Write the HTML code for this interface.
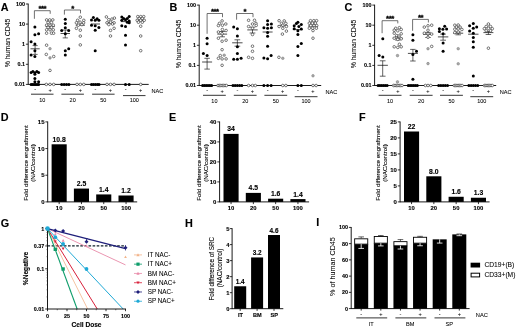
<!DOCTYPE html>
<html><head><meta charset="utf-8"><title>Figure</title>
<style>html,body{margin:0;padding:0;background:#fff;}svg{display:block;}text{font-family:"Liberation Sans",sans-serif;}</style>
</head><body>
<svg width="520" height="329" viewBox="0 0 520 329">
<defs><filter id="soft" x="0" y="0" width="100%" height="100%" filterUnits="userSpaceOnUse" color-interpolation-filters="sRGB"><feGaussianBlur stdDeviation="0.45"/></filter></defs>
<rect width="520" height="329" fill="#fff"/>
<g filter="url(#soft)">
<rect width="520" height="329" fill="#fff"/>
<line x1="28.20" y1="3.60" x2="28.20" y2="84.80" stroke="#000" stroke-width="0.9" />
<line x1="28.20" y1="84.40" x2="148.70" y2="84.40" stroke="#000" stroke-width="0.9" />
<line x1="25.90" y1="84.40" x2="28.20" y2="84.40" stroke="#000" stroke-width="0.8" />
<text x="25.0" y="86.30000000000001" font-size="5.4" font-weight="bold" stroke="#000" stroke-width="0.12" text-anchor="end" fill="#000">0.01</text>
<line x1="25.90" y1="64.30" x2="28.20" y2="64.30" stroke="#000" stroke-width="0.8" />
<text x="25.0" y="66.20000000000002" font-size="5.4" font-weight="bold" stroke="#000" stroke-width="0.12" text-anchor="end" fill="#000">0.1</text>
<line x1="25.90" y1="44.20" x2="28.20" y2="44.20" stroke="#000" stroke-width="0.8" />
<text x="25.0" y="46.1" font-size="5.4" font-weight="bold" stroke="#000" stroke-width="0.12" text-anchor="end" fill="#000">1</text>
<line x1="25.90" y1="24.10" x2="28.20" y2="24.10" stroke="#000" stroke-width="0.8" />
<text x="25.0" y="26.0" font-size="5.4" font-weight="bold" stroke="#000" stroke-width="0.12" text-anchor="end" fill="#000">10</text>
<line x1="25.90" y1="4.00" x2="28.20" y2="4.00" stroke="#000" stroke-width="0.8" />
<text x="25.0" y="5.9" font-size="5.4" font-weight="bold" stroke="#000" stroke-width="0.12" text-anchor="end" fill="#000">100</text>
<text x="0.8" y="11.4" font-size="10.8" font-weight="bold" stroke="#000" stroke-width="0.12" text-anchor="start" fill="#000">A</text>
<text x="9.8" y="42.900000000000006" font-size="6.9" stroke="#000" stroke-width="0.06" text-anchor="middle" fill="#000" transform="rotate(-90 9.8 42.900000000000006)">% human CD45</text>
<line x1="31.00" y1="94.20" x2="53.50" y2="94.20" stroke="#000" stroke-width="0.8" />
<text x="42.25" y="102.30000000000001" font-size="5.5" stroke="#000" stroke-width="0.06" text-anchor="middle" fill="#000">10</text>
<text x="35.1" y="91.2" font-size="5.6" stroke="#000" stroke-width="0.06" text-anchor="middle" fill="#000">-</text>
<text x="50.18" y="91.5" font-size="5.6" stroke="#000" stroke-width="0.06" text-anchor="middle" fill="#000">+</text>
<line x1="61.40" y1="94.20" x2="83.90" y2="94.20" stroke="#000" stroke-width="0.8" />
<text x="72.65" y="102.30000000000001" font-size="5.5" stroke="#000" stroke-width="0.06" text-anchor="middle" fill="#000">20</text>
<text x="65.26" y="91.2" font-size="5.6" stroke="#000" stroke-width="0.06" text-anchor="middle" fill="#000">-</text>
<text x="80.34" y="91.5" font-size="5.6" stroke="#000" stroke-width="0.06" text-anchor="middle" fill="#000">+</text>
<line x1="92.10" y1="94.20" x2="114.60" y2="94.20" stroke="#000" stroke-width="0.8" />
<text x="103.35" y="102.30000000000001" font-size="5.5" stroke="#000" stroke-width="0.06" text-anchor="middle" fill="#000">50</text>
<text x="95.42" y="91.2" font-size="5.6" stroke="#000" stroke-width="0.06" text-anchor="middle" fill="#000">-</text>
<text x="110.5" y="91.5" font-size="5.6" stroke="#000" stroke-width="0.06" text-anchor="middle" fill="#000">+</text>
<line x1="123.00" y1="95.60" x2="145.50" y2="95.60" stroke="#000" stroke-width="0.8" />
<text x="134.25" y="102.30000000000001" font-size="5.5" stroke="#000" stroke-width="0.06" text-anchor="middle" fill="#000">100</text>
<text x="125.58000000000001" y="91.2" font-size="5.6" stroke="#000" stroke-width="0.06" text-anchor="middle" fill="#000">-</text>
<text x="140.66" y="91.5" font-size="5.6" stroke="#000" stroke-width="0.06" text-anchor="middle" fill="#000">+</text>
<text x="151.5" y="92.60000000000001" font-size="5.6" stroke="#000" stroke-width="0.06" text-anchor="start" fill="#000">NAC</text>
<polyline points="34.4,18.8 34.4,10.7 50.2,10.7 50.2,13.8" fill="none" stroke="#333" stroke-width="0.7"/>
<text x="42.3" y="11.3" font-size="7.8" font-weight="bold" text-anchor="middle" letter-spacing="-0.45" stroke="#000" stroke-width="0.3">***</text>
<polyline points="64.4,14.6 64.4,10.0 80.5,10.0 80.5,13.4" fill="none" stroke="#333" stroke-width="0.7"/>
<text x="72.5" y="10.6" font-size="7.8" font-weight="bold" text-anchor="middle" letter-spacing="-0.45" stroke="#000" stroke-width="0.3">*</text>
<line x1="30.50" y1="48.80" x2="39.70" y2="48.80" stroke="#111" stroke-width="0.75" />
<line x1="35.10" y1="45.60" x2="35.10" y2="54.40" stroke="#111" stroke-width="0.65" />
<line x1="32.57" y1="45.60" x2="37.63" y2="45.60" stroke="#111" stroke-width="0.65" />
<line x1="32.57" y1="54.40" x2="37.63" y2="54.40" stroke="#111" stroke-width="0.65" />
<circle cx="34.9" cy="27.1" r="1.5" fill="#000"/>
<circle cx="34.9" cy="34.8" r="1.5" fill="#000"/>
<circle cx="38.6" cy="33.8" r="1.5" fill="#000"/>
<circle cx="31.1" cy="41.8" r="1.5" fill="#000"/>
<circle cx="34.9" cy="44.1" r="1.5" fill="#000"/>
<circle cx="34.9" cy="50.7" r="1.5" fill="#000"/>
<circle cx="31.1" cy="54.9" r="1.5" fill="#000"/>
<circle cx="34.9" cy="56.5" r="1.5" fill="#000"/>
<circle cx="31.1" cy="72.5" r="1.5" fill="#000"/>
<circle cx="32.9" cy="71.6" r="1.5" fill="#000"/>
<circle cx="34.9" cy="72.8" r="1.5" fill="#000"/>
<circle cx="36.9" cy="71.6" r="1.5" fill="#000"/>
<circle cx="38.6" cy="72.5" r="1.5" fill="#000"/>
<circle cx="34.9" cy="74.3" r="1.5" fill="#000"/>
<circle cx="34.9" cy="78.6" r="1.5" fill="#000"/>
<circle cx="34.9" cy="81.7" r="1.5" fill="#000"/>
<circle cx="38.6" cy="81.7" r="1.5" fill="#000"/>
<circle cx="31.1" cy="84.4" r="1.5" fill="#000"/>
<circle cx="32.6" cy="84.4" r="1.5" fill="#000"/>
<circle cx="34.1" cy="84.4" r="1.5" fill="#000"/>
<circle cx="35.6" cy="84.4" r="1.5" fill="#000"/>
<circle cx="37.1" cy="84.4" r="1.5" fill="#000"/>
<circle cx="38.6" cy="84.4" r="1.5" fill="#000"/>
<line x1="45.58" y1="26.60" x2="54.78" y2="26.60" stroke="#111" stroke-width="0.75" />
<circle cx="46.6" cy="19.9" r="1.3" fill="#fff" stroke="#222" stroke-width="0.6"/>
<circle cx="49.7" cy="19.9" r="1.3" fill="#fff" stroke="#222" stroke-width="0.6"/>
<circle cx="52.8" cy="19.9" r="1.3" fill="#fff" stroke="#222" stroke-width="0.6"/>
<circle cx="48.1" cy="22.5" r="1.3" fill="#fff" stroke="#222" stroke-width="0.6"/>
<circle cx="51.4" cy="22.5" r="1.3" fill="#fff" stroke="#222" stroke-width="0.6"/>
<circle cx="46.6" cy="25.2" r="1.3" fill="#fff" stroke="#222" stroke-width="0.6"/>
<circle cx="50.0" cy="25.2" r="1.3" fill="#fff" stroke="#222" stroke-width="0.6"/>
<circle cx="53.3" cy="25.2" r="1.3" fill="#fff" stroke="#222" stroke-width="0.6"/>
<circle cx="48.1" cy="27.4" r="1.3" fill="#fff" stroke="#222" stroke-width="0.6"/>
<circle cx="51.4" cy="27.4" r="1.3" fill="#fff" stroke="#222" stroke-width="0.6"/>
<circle cx="46.6" cy="29.8" r="1.3" fill="#fff" stroke="#222" stroke-width="0.6"/>
<circle cx="50.0" cy="29.8" r="1.3" fill="#fff" stroke="#222" stroke-width="0.6"/>
<circle cx="53.3" cy="29.8" r="1.3" fill="#fff" stroke="#222" stroke-width="0.6"/>
<circle cx="46.6" cy="33.2" r="1.3" fill="#fff" stroke="#222" stroke-width="0.6"/>
<circle cx="51.4" cy="33.2" r="1.3" fill="#fff" stroke="#222" stroke-width="0.6"/>
<circle cx="53.6" cy="33.2" r="1.3" fill="#fff" stroke="#222" stroke-width="0.6"/>
<circle cx="46.6" cy="45.2" r="1.3" fill="#fff" stroke="#222" stroke-width="0.6"/>
<circle cx="50.0" cy="48.7" r="1.3" fill="#aaa" stroke="#777" stroke-width="0.5"/>
<circle cx="46.3" cy="54.4" r="1.3" fill="#fff" stroke="#222" stroke-width="0.6"/>
<circle cx="53.7" cy="56.5" r="1.3" fill="#fff" stroke="#222" stroke-width="0.6"/>
<circle cx="50.0" cy="57.9" r="1.3" fill="#aaa" stroke="#777" stroke-width="0.5"/>
<circle cx="50.0" cy="70.4" r="1.3" fill="#fff" stroke="#222" stroke-width="0.6"/>
<circle cx="46.3" cy="84.4" r="1.3" fill="#fff" stroke="#222" stroke-width="0.6"/>
<circle cx="50.0" cy="84.4" r="1.3" fill="#fff" stroke="#222" stroke-width="0.6"/>
<circle cx="53.7" cy="84.4" r="1.3" fill="#fff" stroke="#222" stroke-width="0.6"/>
<line x1="60.56" y1="33.50" x2="69.96" y2="33.50" stroke="#111" stroke-width="0.75" />
<line x1="65.26" y1="30.00" x2="65.26" y2="37.90" stroke="#111" stroke-width="0.65" />
<line x1="62.68" y1="30.00" x2="67.84" y2="30.00" stroke="#111" stroke-width="0.65" />
<line x1="62.68" y1="37.90" x2="67.84" y2="37.90" stroke="#111" stroke-width="0.65" />
<circle cx="65.3" cy="19.3" r="1.5" fill="#000"/>
<circle cx="65.3" cy="23.4" r="1.5" fill="#000"/>
<circle cx="65.3" cy="27.7" r="1.5" fill="#000"/>
<circle cx="61.7" cy="30.5" r="1.5" fill="#000"/>
<circle cx="68.7" cy="30.5" r="1.5" fill="#000"/>
<circle cx="65.3" cy="33.8" r="1.5" fill="#000"/>
<circle cx="68.7" cy="48.7" r="1.5" fill="#000"/>
<circle cx="65.3" cy="50.7" r="1.5" fill="#000"/>
<circle cx="65.3" cy="54.9" r="1.5" fill="#000"/>
<circle cx="61.7" cy="84.4" r="1.5" fill="#000"/>
<circle cx="64.1" cy="84.4" r="1.5" fill="#000"/>
<circle cx="66.5" cy="84.4" r="1.5" fill="#000"/>
<circle cx="68.9" cy="84.4" r="1.5" fill="#000"/>
<line x1="75.74" y1="25.20" x2="84.94" y2="25.20" stroke="#111" stroke-width="0.75" />
<circle cx="80.3" cy="17.2" r="1.3" fill="#fff" stroke="#222" stroke-width="0.6"/>
<circle cx="77.6" cy="20.3" r="1.3" fill="#fff" stroke="#222" stroke-width="0.6"/>
<circle cx="83.8" cy="20.3" r="1.3" fill="#fff" stroke="#222" stroke-width="0.6"/>
<circle cx="76.4" cy="22.8" r="1.3" fill="#fff" stroke="#222" stroke-width="0.6"/>
<circle cx="80.1" cy="22.2" r="1.3" fill="#fff" stroke="#222" stroke-width="0.6"/>
<circle cx="83.6" cy="22.8" r="1.3" fill="#fff" stroke="#222" stroke-width="0.6"/>
<circle cx="78.3" cy="25.2" r="1.3" fill="#fff" stroke="#222" stroke-width="0.6"/>
<circle cx="81.9" cy="24.6" r="1.3" fill="#fff" stroke="#222" stroke-width="0.6"/>
<circle cx="76.4" cy="28.3" r="1.3" fill="#fff" stroke="#222" stroke-width="0.6"/>
<circle cx="80.3" cy="30.2" r="1.3" fill="#fff" stroke="#222" stroke-width="0.6"/>
<circle cx="80.3" cy="36.1" r="1.3" fill="#fff" stroke="#222" stroke-width="0.6"/>
<circle cx="80.3" cy="44.9" r="1.3" fill="#fff" stroke="#222" stroke-width="0.6"/>
<circle cx="77.0" cy="84.4" r="1.3" fill="#fff" stroke="#222" stroke-width="0.6"/>
<circle cx="80.3" cy="84.4" r="1.3" fill="#fff" stroke="#222" stroke-width="0.6"/>
<circle cx="83.8" cy="84.4" r="1.3" fill="#fff" stroke="#222" stroke-width="0.6"/>
<line x1="90.82" y1="24.00" x2="100.02" y2="24.00" stroke="#111" stroke-width="0.75" />
<circle cx="93.4" cy="17.6" r="1.5" fill="#000"/>
<circle cx="91.5" cy="19.9" r="1.5" fill="#000"/>
<circle cx="97.1" cy="18.8" r="1.5" fill="#000"/>
<circle cx="95.2" cy="20.3" r="1.5" fill="#000"/>
<circle cx="98.9" cy="20.3" r="1.5" fill="#000"/>
<circle cx="91.5" cy="25.2" r="1.5" fill="#000"/>
<circle cx="95.2" cy="25.8" r="1.5" fill="#000"/>
<circle cx="98.9" cy="27.4" r="1.5" fill="#000"/>
<circle cx="95.2" cy="30.2" r="1.5" fill="#000"/>
<circle cx="95.2" cy="50.7" r="1.5" fill="#000"/>
<circle cx="91.5" cy="84.4" r="1.5" fill="#000"/>
<circle cx="93.4" cy="84.4" r="1.5" fill="#000"/>
<circle cx="95.4" cy="84.4" r="1.5" fill="#000"/>
<circle cx="97.4" cy="84.4" r="1.5" fill="#000"/>
<circle cx="99.0" cy="84.4" r="1.5" fill="#000"/>
<line x1="105.90" y1="22.60" x2="115.10" y2="22.60" stroke="#111" stroke-width="0.75" />
<circle cx="106.4" cy="16.9" r="1.3" fill="#fff" stroke="#222" stroke-width="0.6"/>
<circle cx="114.4" cy="18.1" r="1.3" fill="#fff" stroke="#222" stroke-width="0.6"/>
<circle cx="108.8" cy="19.7" r="1.3" fill="#fff" stroke="#222" stroke-width="0.6"/>
<circle cx="111.9" cy="19.1" r="1.3" fill="#fff" stroke="#222" stroke-width="0.6"/>
<circle cx="107.0" cy="22.8" r="1.3" fill="#fff" stroke="#222" stroke-width="0.6"/>
<circle cx="110.7" cy="22.2" r="1.3" fill="#fff" stroke="#222" stroke-width="0.6"/>
<circle cx="114.1" cy="22.8" r="1.3" fill="#fff" stroke="#222" stroke-width="0.6"/>
<circle cx="108.8" cy="24.6" r="1.3" fill="#fff" stroke="#222" stroke-width="0.6"/>
<circle cx="112.5" cy="24.0" r="1.3" fill="#fff" stroke="#222" stroke-width="0.6"/>
<circle cx="114.1" cy="28.3" r="1.3" fill="#fff" stroke="#222" stroke-width="0.6"/>
<circle cx="110.5" cy="30.4" r="1.3" fill="#fff" stroke="#222" stroke-width="0.6"/>
<circle cx="110.5" cy="36.0" r="1.3" fill="#fff" stroke="#222" stroke-width="0.6"/>
<circle cx="107.0" cy="84.4" r="1.3" fill="#fff" stroke="#222" stroke-width="0.6"/>
<circle cx="110.5" cy="84.4" r="1.3" fill="#fff" stroke="#222" stroke-width="0.6"/>
<circle cx="114.1" cy="84.4" r="1.3" fill="#fff" stroke="#222" stroke-width="0.6"/>
<line x1="120.98" y1="21.60" x2="130.18" y2="21.60" stroke="#111" stroke-width="0.75" />
<circle cx="121.8" cy="16.9" r="1.5" fill="#000"/>
<circle cx="129.2" cy="16.4" r="1.5" fill="#000"/>
<circle cx="123.6" cy="18.5" r="1.5" fill="#000"/>
<circle cx="127.3" cy="18.5" r="1.5" fill="#000"/>
<circle cx="121.8" cy="20.3" r="1.5" fill="#000"/>
<circle cx="125.5" cy="19.7" r="1.5" fill="#000"/>
<circle cx="129.2" cy="20.9" r="1.5" fill="#000"/>
<circle cx="127.3" cy="22.2" r="1.5" fill="#000"/>
<circle cx="129.2" cy="22.8" r="1.5" fill="#000"/>
<circle cx="121.8" cy="25.8" r="1.5" fill="#000"/>
<circle cx="125.5" cy="26.5" r="1.5" fill="#000"/>
<circle cx="125.5" cy="35.3" r="1.5" fill="#000"/>
<circle cx="125.5" cy="44.9" r="1.5" fill="#000"/>
<circle cx="125.5" cy="84.4" r="1.5" fill="#000"/>
<circle cx="129.2" cy="84.4" r="1.5" fill="#000"/>
<line x1="136.06" y1="20.20" x2="145.26" y2="20.20" stroke="#111" stroke-width="0.75" />
<circle cx="137.8" cy="16.6" r="1.3" fill="#fff" stroke="#222" stroke-width="0.6"/>
<circle cx="140.7" cy="16.6" r="1.3" fill="#fff" stroke="#222" stroke-width="0.6"/>
<circle cx="143.7" cy="16.6" r="1.3" fill="#fff" stroke="#222" stroke-width="0.6"/>
<circle cx="139.3" cy="18.5" r="1.3" fill="#fff" stroke="#222" stroke-width="0.6"/>
<circle cx="142.3" cy="18.5" r="1.3" fill="#fff" stroke="#222" stroke-width="0.6"/>
<circle cx="137.2" cy="20.3" r="1.3" fill="#fff" stroke="#222" stroke-width="0.6"/>
<circle cx="140.7" cy="20.3" r="1.3" fill="#fff" stroke="#222" stroke-width="0.6"/>
<circle cx="144.2" cy="20.3" r="1.3" fill="#fff" stroke="#222" stroke-width="0.6"/>
<circle cx="138.4" cy="22.2" r="1.3" fill="#fff" stroke="#222" stroke-width="0.6"/>
<circle cx="142.3" cy="22.2" r="1.3" fill="#fff" stroke="#222" stroke-width="0.6"/>
<circle cx="140.7" cy="26.2" r="1.3" fill="#fff" stroke="#222" stroke-width="0.6"/>
<circle cx="140.7" cy="36.0" r="1.3" fill="#fff" stroke="#222" stroke-width="0.6"/>
<circle cx="140.7" cy="50.7" r="1.3" fill="#fff" stroke="#222" stroke-width="0.6"/>
<circle cx="140.7" cy="84.4" r="1.3" fill="#fff" stroke="#222" stroke-width="0.6"/>
<line x1="199.20" y1="4.70" x2="199.20" y2="85.90" stroke="#000" stroke-width="0.9" />
<line x1="199.20" y1="85.50" x2="321.20" y2="85.50" stroke="#000" stroke-width="0.9" />
<line x1="196.90" y1="85.50" x2="199.20" y2="85.50" stroke="#000" stroke-width="0.8" />
<text x="196.0" y="87.4" font-size="5.4" font-weight="bold" stroke="#000" stroke-width="0.12" text-anchor="end" fill="#000">0.01</text>
<line x1="196.90" y1="65.40" x2="199.20" y2="65.40" stroke="#000" stroke-width="0.8" />
<text x="196.0" y="67.30000000000001" font-size="5.4" font-weight="bold" stroke="#000" stroke-width="0.12" text-anchor="end" fill="#000">0.1</text>
<line x1="196.90" y1="45.30" x2="199.20" y2="45.30" stroke="#000" stroke-width="0.8" />
<text x="196.0" y="47.199999999999996" font-size="5.4" font-weight="bold" stroke="#000" stroke-width="0.12" text-anchor="end" fill="#000">1</text>
<line x1="196.90" y1="25.20" x2="199.20" y2="25.20" stroke="#000" stroke-width="0.8" />
<text x="196.0" y="27.099999999999994" font-size="5.4" font-weight="bold" stroke="#000" stroke-width="0.12" text-anchor="end" fill="#000">10</text>
<line x1="196.90" y1="5.10" x2="199.20" y2="5.10" stroke="#000" stroke-width="0.8" />
<text x="196.0" y="6.999999999999995" font-size="5.4" font-weight="bold" stroke="#000" stroke-width="0.12" text-anchor="end" fill="#000">100</text>
<text x="169.5" y="11.4" font-size="10.8" font-weight="bold" stroke="#000" stroke-width="0.12" text-anchor="start" fill="#000">B</text>
<text x="180.79999999999998" y="44.0" font-size="6.9" stroke="#000" stroke-width="0.06" text-anchor="middle" fill="#000" transform="rotate(-90 180.79999999999998 44.0)">% human CD45</text>
<line x1="203.00" y1="95.30" x2="225.80" y2="95.30" stroke="#000" stroke-width="0.8" />
<text x="214.4" y="103.4" font-size="5.5" stroke="#000" stroke-width="0.06" text-anchor="middle" fill="#000">10</text>
<text x="207.1" y="92.3" font-size="5.6" stroke="#000" stroke-width="0.06" text-anchor="middle" fill="#000">-</text>
<text x="222.23" y="92.6" font-size="5.6" stroke="#000" stroke-width="0.06" text-anchor="middle" fill="#000">+</text>
<line x1="233.80" y1="95.30" x2="256.60" y2="95.30" stroke="#000" stroke-width="0.8" />
<text x="245.2" y="103.4" font-size="5.5" stroke="#000" stroke-width="0.06" text-anchor="middle" fill="#000">20</text>
<text x="237.35999999999999" y="92.3" font-size="5.6" stroke="#000" stroke-width="0.06" text-anchor="middle" fill="#000">-</text>
<text x="252.49" y="92.6" font-size="5.6" stroke="#000" stroke-width="0.06" text-anchor="middle" fill="#000">+</text>
<line x1="264.40" y1="95.30" x2="287.20" y2="95.30" stroke="#000" stroke-width="0.8" />
<text x="275.79999999999995" y="103.4" font-size="5.5" stroke="#000" stroke-width="0.06" text-anchor="middle" fill="#000">50</text>
<text x="267.62" y="92.3" font-size="5.6" stroke="#000" stroke-width="0.06" text-anchor="middle" fill="#000">-</text>
<text x="282.75" y="92.6" font-size="5.6" stroke="#000" stroke-width="0.06" text-anchor="middle" fill="#000">+</text>
<line x1="294.70" y1="96.70" x2="317.50" y2="96.70" stroke="#000" stroke-width="0.8" />
<text x="306.1" y="103.4" font-size="5.5" stroke="#000" stroke-width="0.06" text-anchor="middle" fill="#000">100</text>
<text x="297.88" y="92.3" font-size="5.6" stroke="#000" stroke-width="0.06" text-anchor="middle" fill="#000">-</text>
<text x="313.01" y="92.6" font-size="5.6" stroke="#000" stroke-width="0.06" text-anchor="middle" fill="#000">+</text>
<text x="325.4" y="93.7" font-size="5.6" stroke="#000" stroke-width="0.06" text-anchor="start" fill="#000">NAC</text>
<polyline points="207.1,33.8 207.1,13.5 222.5,13.5 222.5,17.2" fill="none" stroke="#333" stroke-width="0.7"/>
<text x="214.8" y="14.1" font-size="7.8" font-weight="bold" text-anchor="middle" letter-spacing="-0.45" stroke="#000" stroke-width="0.3">***</text>
<polyline points="236.6,19.7 236.6,13.5 253.0,13.5 253.0,17.2" fill="none" stroke="#333" stroke-width="0.7"/>
<text x="244.8" y="14.1" font-size="7.8" font-weight="bold" text-anchor="middle" letter-spacing="-0.45" stroke="#000" stroke-width="0.3">*</text>
<line x1="202.10" y1="62.00" x2="212.10" y2="62.00" stroke="#111" stroke-width="0.75" />
<line x1="207.10" y1="58.30" x2="207.10" y2="69.10" stroke="#111" stroke-width="0.65" />
<line x1="204.35" y1="58.30" x2="209.85" y2="58.30" stroke="#111" stroke-width="0.65" />
<line x1="204.35" y1="69.10" x2="209.85" y2="69.10" stroke="#111" stroke-width="0.65" />
<circle cx="207.1" cy="38.2" r="1.5" fill="#000"/>
<circle cx="207.1" cy="43.7" r="1.5" fill="#000"/>
<circle cx="203.4" cy="53.4" r="1.5" fill="#000"/>
<circle cx="207.1" cy="55.6" r="1.5" fill="#000"/>
<circle cx="202.6" cy="85.5" r="1.5" fill="#000"/>
<circle cx="204.4" cy="85.5" r="1.5" fill="#000"/>
<circle cx="206.2" cy="85.5" r="1.5" fill="#000"/>
<circle cx="208.0" cy="85.5" r="1.5" fill="#000"/>
<circle cx="209.8" cy="85.5" r="1.5" fill="#000"/>
<circle cx="211.6" cy="85.5" r="1.5" fill="#000"/>
<line x1="217.33" y1="34.10" x2="227.13" y2="34.10" stroke="#111" stroke-width="0.75" />
<line x1="222.23" y1="31.50" x2="222.23" y2="36.80" stroke="#111" stroke-width="0.65" />
<line x1="219.53" y1="31.50" x2="224.92" y2="31.50" stroke="#111" stroke-width="0.65" />
<line x1="219.53" y1="36.80" x2="224.92" y2="36.80" stroke="#111" stroke-width="0.65" />
<circle cx="222.1" cy="20.9" r="1.3" fill="#fff" stroke="#222" stroke-width="0.6"/>
<circle cx="219.4" cy="23.4" r="1.3" fill="#fff" stroke="#222" stroke-width="0.6"/>
<circle cx="225.8" cy="24.0" r="1.3" fill="#fff" stroke="#222" stroke-width="0.6"/>
<circle cx="218.4" cy="25.6" r="1.3" fill="#fff" stroke="#222" stroke-width="0.6"/>
<circle cx="222.4" cy="25.2" r="1.3" fill="#fff" stroke="#222" stroke-width="0.6"/>
<circle cx="222.4" cy="29.5" r="1.3" fill="#fff" stroke="#222" stroke-width="0.6"/>
<circle cx="226.1" cy="30.5" r="1.3" fill="#fff" stroke="#222" stroke-width="0.6"/>
<circle cx="218.4" cy="32.0" r="1.3" fill="#fff" stroke="#222" stroke-width="0.6"/>
<circle cx="222.1" cy="33.8" r="1.3" fill="#fff" stroke="#222" stroke-width="0.6"/>
<circle cx="218.4" cy="38.2" r="1.3" fill="#fff" stroke="#222" stroke-width="0.6"/>
<circle cx="222.1" cy="41.2" r="1.3" fill="#fff" stroke="#222" stroke-width="0.6"/>
<circle cx="226.1" cy="40.2" r="1.3" fill="#fff" stroke="#222" stroke-width="0.6"/>
<circle cx="222.1" cy="49.7" r="1.3" fill="#fff" stroke="#222" stroke-width="0.6"/>
<circle cx="220.3" cy="55.6" r="1.3" fill="#fff" stroke="#222" stroke-width="0.6"/>
<circle cx="224.2" cy="55.2" r="1.3" fill="#aaa" stroke="#777" stroke-width="0.5"/>
<circle cx="218.4" cy="58.3" r="1.3" fill="#fff" stroke="#222" stroke-width="0.6"/>
<circle cx="222.1" cy="58.9" r="1.3" fill="#fff" stroke="#222" stroke-width="0.6"/>
<circle cx="226.1" cy="58.9" r="1.3" fill="#fff" stroke="#222" stroke-width="0.6"/>
<circle cx="222.1" cy="65.3" r="1.3" fill="#fff" stroke="#222" stroke-width="0.6"/>
<circle cx="218.0" cy="85.5" r="1.3" fill="#fff" stroke="#222" stroke-width="0.6"/>
<circle cx="219.4" cy="85.5" r="1.3" fill="#fff" stroke="#222" stroke-width="0.6"/>
<circle cx="220.8" cy="85.5" r="1.3" fill="#fff" stroke="#222" stroke-width="0.6"/>
<circle cx="222.2" cy="85.5" r="1.3" fill="#fff" stroke="#222" stroke-width="0.6"/>
<circle cx="223.6" cy="85.5" r="1.3" fill="#fff" stroke="#222" stroke-width="0.6"/>
<circle cx="225.0" cy="85.5" r="1.3" fill="#fff" stroke="#222" stroke-width="0.6"/>
<circle cx="226.4" cy="85.5" r="1.3" fill="#fff" stroke="#222" stroke-width="0.6"/>
<line x1="232.16" y1="42.80" x2="242.56" y2="42.80" stroke="#111" stroke-width="0.75" />
<line x1="237.36" y1="39.80" x2="237.36" y2="46.20" stroke="#111" stroke-width="0.65" />
<line x1="234.50" y1="39.80" x2="240.22" y2="39.80" stroke="#111" stroke-width="0.65" />
<line x1="234.50" y1="46.20" x2="240.22" y2="46.20" stroke="#111" stroke-width="0.65" />
<circle cx="233.7" cy="27.1" r="1.5" fill="#000"/>
<circle cx="237.4" cy="28.7" r="1.5" fill="#000"/>
<circle cx="237.4" cy="36.1" r="1.5" fill="#000"/>
<circle cx="237.4" cy="46.8" r="1.5" fill="#000"/>
<circle cx="237.4" cy="53.4" r="1.5" fill="#000"/>
<circle cx="233.7" cy="59.3" r="1.5" fill="#000"/>
<circle cx="237.4" cy="59.3" r="1.5" fill="#000"/>
<circle cx="241.1" cy="58.3" r="1.5" fill="#000"/>
<circle cx="233.0" cy="85.5" r="1.5" fill="#000"/>
<circle cx="235.2" cy="85.5" r="1.5" fill="#000"/>
<circle cx="237.4" cy="85.5" r="1.5" fill="#000"/>
<circle cx="239.6" cy="85.5" r="1.5" fill="#000"/>
<circle cx="241.8" cy="85.5" r="1.5" fill="#000"/>
<line x1="247.29" y1="29.90" x2="257.69" y2="29.90" stroke="#111" stroke-width="0.75" />
<line x1="252.49" y1="27.20" x2="252.49" y2="33.00" stroke="#111" stroke-width="0.65" />
<line x1="249.63" y1="27.20" x2="255.35" y2="27.20" stroke="#111" stroke-width="0.65" />
<line x1="249.63" y1="33.00" x2="255.35" y2="33.00" stroke="#111" stroke-width="0.65" />
<circle cx="248.6" cy="20.3" r="1.3" fill="#fff" stroke="#222" stroke-width="0.6"/>
<circle cx="254.5" cy="20.3" r="1.3" fill="#fff" stroke="#222" stroke-width="0.6"/>
<circle cx="252.5" cy="24.0" r="1.3" fill="#fff" stroke="#222" stroke-width="0.6"/>
<circle cx="256.0" cy="23.4" r="1.3" fill="#fff" stroke="#222" stroke-width="0.6"/>
<circle cx="256.2" cy="25.4" r="1.3" fill="#fff" stroke="#222" stroke-width="0.6"/>
<circle cx="248.6" cy="26.5" r="1.3" fill="#fff" stroke="#222" stroke-width="0.6"/>
<circle cx="252.5" cy="28.3" r="1.3" fill="#fff" stroke="#222" stroke-width="0.6"/>
<circle cx="252.5" cy="34.5" r="1.3" fill="#fff" stroke="#222" stroke-width="0.6"/>
<circle cx="252.5" cy="46.2" r="1.3" fill="#fff" stroke="#222" stroke-width="0.6"/>
<circle cx="252.5" cy="51.3" r="1.3" fill="#fff" stroke="#222" stroke-width="0.6"/>
<circle cx="248.6" cy="57.3" r="1.3" fill="#fff" stroke="#222" stroke-width="0.6"/>
<circle cx="252.5" cy="58.3" r="1.3" fill="#fff" stroke="#222" stroke-width="0.6"/>
<circle cx="248.6" cy="85.5" r="1.3" fill="#fff" stroke="#222" stroke-width="0.6"/>
<circle cx="252.5" cy="85.5" r="1.3" fill="#fff" stroke="#222" stroke-width="0.6"/>
<circle cx="255.3" cy="85.5" r="1.3" fill="#fff" stroke="#222" stroke-width="0.6"/>
<line x1="262.62" y1="32.00" x2="272.62" y2="32.00" stroke="#111" stroke-width="0.75" />
<circle cx="267.6" cy="20.7" r="1.5" fill="#000"/>
<circle cx="267.6" cy="24.4" r="1.5" fill="#000"/>
<circle cx="271.4" cy="24.0" r="1.5" fill="#000"/>
<circle cx="263.9" cy="27.7" r="1.5" fill="#000"/>
<circle cx="267.6" cy="28.3" r="1.5" fill="#000"/>
<circle cx="271.4" cy="27.7" r="1.5" fill="#000"/>
<circle cx="267.6" cy="32.6" r="1.5" fill="#000"/>
<circle cx="267.6" cy="36.3" r="1.5" fill="#000"/>
<circle cx="267.6" cy="46.2" r="1.5" fill="#000"/>
<circle cx="271.1" cy="55.6" r="1.5" fill="#000"/>
<circle cx="263.9" cy="58.1" r="1.5" fill="#000"/>
<circle cx="267.6" cy="58.7" r="1.5" fill="#000"/>
<circle cx="263.9" cy="85.5" r="1.5" fill="#000"/>
<circle cx="267.6" cy="85.5" r="1.5" fill="#000"/>
<circle cx="271.1" cy="85.5" r="1.5" fill="#000"/>
<line x1="277.75" y1="25.80" x2="287.75" y2="25.80" stroke="#111" stroke-width="0.75" />
<circle cx="279.1" cy="20.7" r="1.3" fill="#fff" stroke="#222" stroke-width="0.6"/>
<circle cx="284.2" cy="20.9" r="1.3" fill="#fff" stroke="#222" stroke-width="0.6"/>
<circle cx="281.6" cy="23.4" r="1.3" fill="#fff" stroke="#222" stroke-width="0.6"/>
<circle cx="285.9" cy="23.4" r="1.3" fill="#fff" stroke="#222" stroke-width="0.6"/>
<circle cx="279.1" cy="26.5" r="1.3" fill="#fff" stroke="#222" stroke-width="0.6"/>
<circle cx="282.8" cy="25.2" r="1.3" fill="#fff" stroke="#222" stroke-width="0.6"/>
<circle cx="286.4" cy="26.5" r="1.3" fill="#fff" stroke="#222" stroke-width="0.6"/>
<circle cx="282.8" cy="28.3" r="1.3" fill="#fff" stroke="#222" stroke-width="0.6"/>
<circle cx="286.4" cy="31.1" r="1.3" fill="#fff" stroke="#222" stroke-width="0.6"/>
<circle cx="282.4" cy="34.1" r="1.3" fill="#fff" stroke="#222" stroke-width="0.6"/>
<circle cx="278.9" cy="57.3" r="1.3" fill="#fff" stroke="#222" stroke-width="0.6"/>
<circle cx="282.8" cy="58.3" r="1.3" fill="#aaa" stroke="#777" stroke-width="0.5"/>
<circle cx="282.8" cy="85.5" r="1.3" fill="#fff" stroke="#222" stroke-width="0.6"/>
<circle cx="285.9" cy="85.5" r="1.3" fill="#fff" stroke="#222" stroke-width="0.6"/>
<line x1="292.88" y1="29.60" x2="302.88" y2="29.60" stroke="#111" stroke-width="0.75" />
<circle cx="297.9" cy="22.2" r="1.5" fill="#000"/>
<circle cx="296.4" cy="23.4" r="1.5" fill="#000"/>
<circle cx="294.2" cy="25.8" r="1.5" fill="#000"/>
<circle cx="301.3" cy="24.6" r="1.5" fill="#000"/>
<circle cx="294.2" cy="28.7" r="1.5" fill="#000"/>
<circle cx="298.9" cy="26.5" r="1.5" fill="#000"/>
<circle cx="301.3" cy="28.9" r="1.5" fill="#000"/>
<circle cx="297.9" cy="30.8" r="1.5" fill="#000"/>
<circle cx="297.9" cy="34.5" r="1.5" fill="#000"/>
<circle cx="301.3" cy="43.4" r="1.5" fill="#000"/>
<circle cx="297.9" cy="46.4" r="1.5" fill="#000"/>
<circle cx="297.9" cy="55.6" r="1.5" fill="#000"/>
<circle cx="297.9" cy="85.5" r="1.5" fill="#000"/>
<circle cx="301.3" cy="85.5" r="1.5" fill="#000"/>
<line x1="308.01" y1="26.00" x2="318.01" y2="26.00" stroke="#111" stroke-width="0.75" />
<circle cx="310.5" cy="20.7" r="1.3" fill="#fff" stroke="#222" stroke-width="0.6"/>
<circle cx="313.8" cy="20.7" r="1.3" fill="#fff" stroke="#222" stroke-width="0.6"/>
<circle cx="316.6" cy="20.7" r="1.3" fill="#fff" stroke="#222" stroke-width="0.6"/>
<circle cx="309.3" cy="23.2" r="1.3" fill="#fff" stroke="#222" stroke-width="0.6"/>
<circle cx="312.4" cy="23.2" r="1.3" fill="#fff" stroke="#222" stroke-width="0.6"/>
<circle cx="315.4" cy="23.2" r="1.3" fill="#fff" stroke="#222" stroke-width="0.6"/>
<circle cx="310.8" cy="25.6" r="1.3" fill="#fff" stroke="#222" stroke-width="0.6"/>
<circle cx="314.0" cy="25.6" r="1.3" fill="#fff" stroke="#222" stroke-width="0.6"/>
<circle cx="316.7" cy="25.6" r="1.3" fill="#fff" stroke="#222" stroke-width="0.6"/>
<circle cx="309.3" cy="28.2" r="1.3" fill="#fff" stroke="#222" stroke-width="0.6"/>
<circle cx="312.7" cy="28.2" r="1.3" fill="#fff" stroke="#222" stroke-width="0.6"/>
<circle cx="316.4" cy="28.2" r="1.3" fill="#fff" stroke="#222" stroke-width="0.6"/>
<circle cx="313.0" cy="30.6" r="1.3" fill="#fff" stroke="#222" stroke-width="0.6"/>
<circle cx="313.0" cy="38.2" r="1.3" fill="#fff" stroke="#222" stroke-width="0.6"/>
<circle cx="313.0" cy="75.8" r="1.3" fill="#aaa" stroke="#777" stroke-width="0.5"/>
<circle cx="313.0" cy="85.5" r="1.3" fill="#fff" stroke="#222" stroke-width="0.6"/>
<circle cx="316.1" cy="85.5" r="1.3" fill="#fff" stroke="#222" stroke-width="0.6"/>
<line x1="374.60" y1="4.70" x2="374.60" y2="85.90" stroke="#000" stroke-width="0.9" />
<line x1="374.60" y1="85.50" x2="496.20" y2="85.50" stroke="#000" stroke-width="0.9" />
<line x1="372.30" y1="85.50" x2="374.60" y2="85.50" stroke="#000" stroke-width="0.8" />
<text x="371.40000000000003" y="87.4" font-size="5.4" font-weight="bold" stroke="#000" stroke-width="0.12" text-anchor="end" fill="#000">0.01</text>
<line x1="372.30" y1="65.40" x2="374.60" y2="65.40" stroke="#000" stroke-width="0.8" />
<text x="371.40000000000003" y="67.30000000000001" font-size="5.4" font-weight="bold" stroke="#000" stroke-width="0.12" text-anchor="end" fill="#000">0.1</text>
<line x1="372.30" y1="45.30" x2="374.60" y2="45.30" stroke="#000" stroke-width="0.8" />
<text x="371.40000000000003" y="47.199999999999996" font-size="5.4" font-weight="bold" stroke="#000" stroke-width="0.12" text-anchor="end" fill="#000">1</text>
<line x1="372.30" y1="25.20" x2="374.60" y2="25.20" stroke="#000" stroke-width="0.8" />
<text x="371.40000000000003" y="27.099999999999994" font-size="5.4" font-weight="bold" stroke="#000" stroke-width="0.12" text-anchor="end" fill="#000">10</text>
<line x1="372.30" y1="5.10" x2="374.60" y2="5.10" stroke="#000" stroke-width="0.8" />
<text x="371.40000000000003" y="6.999999999999995" font-size="5.4" font-weight="bold" stroke="#000" stroke-width="0.12" text-anchor="end" fill="#000">100</text>
<text x="344.5" y="11.4" font-size="10.8" font-weight="bold" stroke="#000" stroke-width="0.12" text-anchor="start" fill="#000">C</text>
<text x="356.20000000000005" y="44.0" font-size="6.9" stroke="#000" stroke-width="0.06" text-anchor="middle" fill="#000" transform="rotate(-90 356.20000000000005 44.0)">% human CD45</text>
<line x1="378.60" y1="95.30" x2="401.50" y2="95.30" stroke="#000" stroke-width="0.8" />
<text x="390.04999999999995" y="103.4" font-size="5.5" stroke="#000" stroke-width="0.06" text-anchor="middle" fill="#000">10</text>
<text x="382.7" y="92.3" font-size="5.6" stroke="#000" stroke-width="0.06" text-anchor="middle" fill="#000">-</text>
<text x="397.8" y="92.6" font-size="5.6" stroke="#000" stroke-width="0.06" text-anchor="middle" fill="#000">+</text>
<line x1="409.70" y1="95.30" x2="432.60" y2="95.30" stroke="#000" stroke-width="0.8" />
<text x="421.15" y="103.4" font-size="5.5" stroke="#000" stroke-width="0.06" text-anchor="middle" fill="#000">20</text>
<text x="412.9" y="92.3" font-size="5.6" stroke="#000" stroke-width="0.06" text-anchor="middle" fill="#000">-</text>
<text x="428.0" y="92.6" font-size="5.6" stroke="#000" stroke-width="0.06" text-anchor="middle" fill="#000">+</text>
<line x1="440.00" y1="95.30" x2="462.90" y2="95.30" stroke="#000" stroke-width="0.8" />
<text x="451.45" y="103.4" font-size="5.5" stroke="#000" stroke-width="0.06" text-anchor="middle" fill="#000">50</text>
<text x="443.09999999999997" y="92.3" font-size="5.6" stroke="#000" stroke-width="0.06" text-anchor="middle" fill="#000">-</text>
<text x="458.2" y="92.6" font-size="5.6" stroke="#000" stroke-width="0.06" text-anchor="middle" fill="#000">+</text>
<line x1="470.30" y1="96.70" x2="493.20" y2="96.70" stroke="#000" stroke-width="0.8" />
<text x="481.74999999999994" y="103.4" font-size="5.5" stroke="#000" stroke-width="0.06" text-anchor="middle" fill="#000">100</text>
<text x="473.29999999999995" y="92.3" font-size="5.6" stroke="#000" stroke-width="0.06" text-anchor="middle" fill="#000">-</text>
<text x="488.4" y="92.6" font-size="5.6" stroke="#000" stroke-width="0.06" text-anchor="middle" fill="#000">+</text>
<text x="499.8" y="93.7" font-size="5.6" stroke="#000" stroke-width="0.06" text-anchor="start" fill="#000">NAC</text>
<polyline points="382.1,33.2 382.1,20.7 397.8,20.7 397.8,23.4" fill="none" stroke="#333" stroke-width="0.7"/>
<text x="390.0" y="21.3" font-size="7.8" font-weight="bold" text-anchor="middle" letter-spacing="-0.45" stroke="#000" stroke-width="0.3">***</text>
<polyline points="412.6,30.8 412.6,19.4 428.4,19.4 428.4,22.5" fill="none" stroke="#333" stroke-width="0.7"/>
<text x="420.5" y="20.0" font-size="7.8" font-weight="bold" text-anchor="middle" letter-spacing="-0.45" stroke="#000" stroke-width="0.3">**</text>
<line x1="377.50" y1="65.30" x2="387.90" y2="65.30" stroke="#111" stroke-width="0.75" />
<line x1="382.70" y1="60.80" x2="382.70" y2="76.20" stroke="#111" stroke-width="0.65" />
<line x1="379.84" y1="60.80" x2="385.56" y2="60.80" stroke="#111" stroke-width="0.65" />
<line x1="379.84" y1="76.20" x2="385.56" y2="76.20" stroke="#111" stroke-width="0.65" />
<circle cx="382.8" cy="38.8" r="1.5" fill="#000"/>
<circle cx="379.1" cy="55.6" r="1.5" fill="#000"/>
<circle cx="382.8" cy="57.1" r="1.5" fill="#000"/>
<circle cx="378.1" cy="85.5" r="1.5" fill="#000"/>
<circle cx="379.9" cy="85.5" r="1.5" fill="#000"/>
<circle cx="381.7" cy="85.5" r="1.5" fill="#000"/>
<circle cx="383.5" cy="85.5" r="1.5" fill="#000"/>
<circle cx="385.3" cy="85.5" r="1.5" fill="#000"/>
<circle cx="387.1" cy="85.5" r="1.5" fill="#000"/>
<line x1="392.80" y1="38.20" x2="402.80" y2="38.20" stroke="#111" stroke-width="0.75" />
<line x1="397.80" y1="36.50" x2="397.80" y2="40.00" stroke="#111" stroke-width="0.65" />
<line x1="395.05" y1="36.50" x2="400.55" y2="36.50" stroke="#111" stroke-width="0.65" />
<line x1="395.05" y1="40.00" x2="400.55" y2="40.00" stroke="#111" stroke-width="0.65" />
<circle cx="395.7" cy="28.3" r="1.3" fill="#fff" stroke="#222" stroke-width="0.6"/>
<circle cx="399.4" cy="27.7" r="1.3" fill="#fff" stroke="#222" stroke-width="0.6"/>
<circle cx="394.2" cy="30.2" r="1.3" fill="#fff" stroke="#222" stroke-width="0.6"/>
<circle cx="397.8" cy="30.8" r="1.3" fill="#fff" stroke="#222" stroke-width="0.6"/>
<circle cx="401.2" cy="29.5" r="1.3" fill="#fff" stroke="#222" stroke-width="0.6"/>
<circle cx="394.2" cy="33.2" r="1.3" fill="#fff" stroke="#222" stroke-width="0.6"/>
<circle cx="401.2" cy="33.8" r="1.3" fill="#fff" stroke="#222" stroke-width="0.6"/>
<circle cx="396.8" cy="35.6" r="1.3" fill="#fff" stroke="#222" stroke-width="0.6"/>
<circle cx="399.0" cy="36.0" r="1.3" fill="#fff" stroke="#222" stroke-width="0.6"/>
<circle cx="394.2" cy="38.2" r="1.3" fill="#fff" stroke="#222" stroke-width="0.6"/>
<circle cx="397.8" cy="39.4" r="1.3" fill="#fff" stroke="#222" stroke-width="0.6"/>
<circle cx="401.2" cy="38.8" r="1.3" fill="#fff" stroke="#222" stroke-width="0.6"/>
<circle cx="399.4" cy="44.3" r="1.3" fill="#fff" stroke="#222" stroke-width="0.6"/>
<circle cx="394.2" cy="46.8" r="1.3" fill="#fff" stroke="#222" stroke-width="0.6"/>
<circle cx="397.8" cy="47.4" r="1.3" fill="#fff" stroke="#222" stroke-width="0.6"/>
<circle cx="401.2" cy="46.8" r="1.3" fill="#fff" stroke="#222" stroke-width="0.6"/>
<circle cx="397.5" cy="55.6" r="1.3" fill="#aaa" stroke="#777" stroke-width="0.5"/>
<circle cx="397.5" cy="81.9" r="1.3" fill="#aaa" stroke="#777" stroke-width="0.5"/>
<circle cx="393.6" cy="85.5" r="1.3" fill="#fff" stroke="#222" stroke-width="0.6"/>
<circle cx="395.0" cy="85.5" r="1.3" fill="#fff" stroke="#222" stroke-width="0.6"/>
<circle cx="396.4" cy="85.5" r="1.3" fill="#fff" stroke="#222" stroke-width="0.6"/>
<circle cx="397.8" cy="85.5" r="1.3" fill="#fff" stroke="#222" stroke-width="0.6"/>
<circle cx="399.2" cy="85.5" r="1.3" fill="#fff" stroke="#222" stroke-width="0.6"/>
<circle cx="400.6" cy="85.5" r="1.3" fill="#fff" stroke="#222" stroke-width="0.6"/>
<circle cx="402.0" cy="85.5" r="1.3" fill="#fff" stroke="#222" stroke-width="0.6"/>
<line x1="407.90" y1="53.40" x2="417.90" y2="53.40" stroke="#111" stroke-width="0.75" />
<line x1="412.90" y1="49.40" x2="412.90" y2="61.00" stroke="#111" stroke-width="0.65" />
<line x1="410.15" y1="49.40" x2="415.65" y2="49.40" stroke="#111" stroke-width="0.65" />
<line x1="410.15" y1="61.00" x2="415.65" y2="61.00" stroke="#111" stroke-width="0.65" />
<circle cx="412.9" cy="34.7" r="1.5" fill="#000"/>
<circle cx="412.9" cy="40.2" r="1.5" fill="#000"/>
<circle cx="416.5" cy="51.3" r="1.5" fill="#000"/>
<circle cx="412.9" cy="54.4" r="1.5" fill="#000"/>
<circle cx="412.9" cy="79.2" r="1.5" fill="#000"/>
<circle cx="408.3" cy="85.5" r="1.5" fill="#000"/>
<circle cx="410.1" cy="85.5" r="1.5" fill="#000"/>
<circle cx="411.9" cy="85.5" r="1.5" fill="#000"/>
<circle cx="413.7" cy="85.5" r="1.5" fill="#000"/>
<circle cx="415.5" cy="85.5" r="1.5" fill="#000"/>
<circle cx="417.3" cy="85.5" r="1.5" fill="#000"/>
<line x1="423.00" y1="34.30" x2="433.00" y2="34.30" stroke="#111" stroke-width="0.75" />
<line x1="428.00" y1="32.40" x2="428.00" y2="37.50" stroke="#111" stroke-width="0.65" />
<line x1="425.25" y1="32.40" x2="430.75" y2="32.40" stroke="#111" stroke-width="0.65" />
<line x1="425.25" y1="37.50" x2="430.75" y2="37.50" stroke="#111" stroke-width="0.65" />
<circle cx="424.3" cy="27.1" r="1.3" fill="#fff" stroke="#222" stroke-width="0.6"/>
<circle cx="428.0" cy="25.8" r="1.3" fill="#fff" stroke="#222" stroke-width="0.6"/>
<circle cx="431.7" cy="25.2" r="1.3" fill="#fff" stroke="#222" stroke-width="0.6"/>
<circle cx="428.0" cy="30.2" r="1.3" fill="#fff" stroke="#222" stroke-width="0.6"/>
<circle cx="424.3" cy="33.2" r="1.3" fill="#fff" stroke="#222" stroke-width="0.6"/>
<circle cx="428.0" cy="33.8" r="1.3" fill="#fff" stroke="#222" stroke-width="0.6"/>
<circle cx="431.7" cy="34.1" r="1.3" fill="#fff" stroke="#222" stroke-width="0.6"/>
<circle cx="428.0" cy="37.2" r="1.3" fill="#fff" stroke="#222" stroke-width="0.6"/>
<circle cx="431.7" cy="46.4" r="1.3" fill="#fff" stroke="#222" stroke-width="0.6"/>
<circle cx="428.0" cy="48.7" r="1.3" fill="#aaa" stroke="#777" stroke-width="0.5"/>
<circle cx="428.0" cy="63.6" r="1.3" fill="#aaa" stroke="#777" stroke-width="0.5"/>
<circle cx="425.4" cy="85.5" r="1.3" fill="#fff" stroke="#222" stroke-width="0.6"/>
<circle cx="428.0" cy="85.5" r="1.3" fill="#fff" stroke="#222" stroke-width="0.6"/>
<circle cx="430.8" cy="85.5" r="1.3" fill="#fff" stroke="#222" stroke-width="0.6"/>
<line x1="437.90" y1="36.90" x2="448.30" y2="36.90" stroke="#111" stroke-width="0.75" />
<line x1="443.10" y1="34.10" x2="443.10" y2="40.20" stroke="#111" stroke-width="0.65" />
<line x1="440.24" y1="34.10" x2="445.96" y2="34.10" stroke="#111" stroke-width="0.65" />
<line x1="440.24" y1="40.20" x2="445.96" y2="40.20" stroke="#111" stroke-width="0.65" />
<circle cx="444.7" cy="26.2" r="1.5" fill="#000"/>
<circle cx="439.4" cy="28.7" r="1.5" fill="#000"/>
<circle cx="442.9" cy="29.2" r="1.5" fill="#000"/>
<circle cx="446.6" cy="28.9" r="1.5" fill="#000"/>
<circle cx="439.4" cy="31.4" r="1.5" fill="#000"/>
<circle cx="443.1" cy="33.8" r="1.5" fill="#000"/>
<circle cx="443.1" cy="43.1" r="1.5" fill="#000"/>
<circle cx="443.1" cy="51.3" r="1.5" fill="#000"/>
<circle cx="438.7" cy="85.5" r="1.5" fill="#000"/>
<circle cx="440.9" cy="85.5" r="1.5" fill="#000"/>
<circle cx="443.1" cy="85.5" r="1.5" fill="#000"/>
<circle cx="445.3" cy="85.5" r="1.5" fill="#000"/>
<circle cx="447.5" cy="85.5" r="1.5" fill="#000"/>
<line x1="453.20" y1="33.20" x2="463.20" y2="33.20" stroke="#111" stroke-width="0.75" />
<line x1="458.20" y1="32.00" x2="458.20" y2="34.80" stroke="#111" stroke-width="0.65" />
<line x1="455.45" y1="32.00" x2="460.95" y2="32.00" stroke="#111" stroke-width="0.65" />
<line x1="455.45" y1="34.80" x2="460.95" y2="34.80" stroke="#111" stroke-width="0.65" />
<circle cx="454.8" cy="25.2" r="1.3" fill="#fff" stroke="#222" stroke-width="0.6"/>
<circle cx="458.2" cy="25.0" r="1.3" fill="#fff" stroke="#222" stroke-width="0.6"/>
<circle cx="456.4" cy="27.1" r="1.3" fill="#fff" stroke="#222" stroke-width="0.6"/>
<circle cx="460.1" cy="27.1" r="1.3" fill="#fff" stroke="#222" stroke-width="0.6"/>
<circle cx="454.8" cy="29.2" r="1.3" fill="#fff" stroke="#222" stroke-width="0.6"/>
<circle cx="458.2" cy="28.9" r="1.3" fill="#fff" stroke="#222" stroke-width="0.6"/>
<circle cx="461.9" cy="29.5" r="1.3" fill="#fff" stroke="#222" stroke-width="0.6"/>
<circle cx="454.8" cy="32.6" r="1.3" fill="#fff" stroke="#222" stroke-width="0.6"/>
<circle cx="458.2" cy="32.0" r="1.3" fill="#fff" stroke="#222" stroke-width="0.6"/>
<circle cx="458.2" cy="48.7" r="1.3" fill="#aaa" stroke="#777" stroke-width="0.5"/>
<circle cx="458.2" cy="63.8" r="1.3" fill="#aaa" stroke="#777" stroke-width="0.5"/>
<circle cx="454.3" cy="85.5" r="1.3" fill="#fff" stroke="#222" stroke-width="0.6"/>
<circle cx="455.6" cy="85.5" r="1.3" fill="#fff" stroke="#222" stroke-width="0.6"/>
<circle cx="456.9" cy="85.5" r="1.3" fill="#fff" stroke="#222" stroke-width="0.6"/>
<circle cx="458.2" cy="85.5" r="1.3" fill="#fff" stroke="#222" stroke-width="0.6"/>
<circle cx="459.5" cy="85.5" r="1.3" fill="#fff" stroke="#222" stroke-width="0.6"/>
<circle cx="460.8" cy="85.5" r="1.3" fill="#fff" stroke="#222" stroke-width="0.6"/>
<circle cx="462.1" cy="85.5" r="1.3" fill="#fff" stroke="#222" stroke-width="0.6"/>
<line x1="468.10" y1="34.20" x2="478.50" y2="34.20" stroke="#111" stroke-width="0.75" />
<circle cx="473.3" cy="23.4" r="1.5" fill="#000"/>
<circle cx="469.6" cy="25.8" r="1.5" fill="#000"/>
<circle cx="476.7" cy="27.1" r="1.5" fill="#000"/>
<circle cx="473.3" cy="28.3" r="1.5" fill="#000"/>
<circle cx="469.6" cy="31.1" r="1.5" fill="#000"/>
<circle cx="473.3" cy="33.2" r="1.5" fill="#000"/>
<circle cx="473.3" cy="37.5" r="1.5" fill="#000"/>
<circle cx="473.3" cy="41.8" r="1.5" fill="#000"/>
<circle cx="473.3" cy="47.2" r="1.5" fill="#000"/>
<circle cx="473.3" cy="75.9" r="1.5" fill="#000"/>
<circle cx="468.9" cy="85.5" r="1.5" fill="#000"/>
<circle cx="471.1" cy="85.5" r="1.5" fill="#000"/>
<circle cx="473.3" cy="85.5" r="1.5" fill="#000"/>
<circle cx="475.5" cy="85.5" r="1.5" fill="#000"/>
<circle cx="477.7" cy="85.5" r="1.5" fill="#000"/>
<line x1="483.40" y1="32.60" x2="493.40" y2="32.60" stroke="#111" stroke-width="0.75" />
<line x1="488.40" y1="31.40" x2="488.40" y2="34.50" stroke="#111" stroke-width="0.65" />
<line x1="485.65" y1="31.40" x2="491.15" y2="31.40" stroke="#111" stroke-width="0.65" />
<line x1="485.65" y1="34.50" x2="491.15" y2="34.50" stroke="#111" stroke-width="0.65" />
<circle cx="488.4" cy="24.0" r="1.3" fill="#fff" stroke="#222" stroke-width="0.6"/>
<circle cx="486.2" cy="26.5" r="1.3" fill="#fff" stroke="#222" stroke-width="0.6"/>
<circle cx="490.5" cy="26.5" r="1.3" fill="#fff" stroke="#222" stroke-width="0.6"/>
<circle cx="484.3" cy="28.7" r="1.3" fill="#fff" stroke="#222" stroke-width="0.6"/>
<circle cx="488.4" cy="28.3" r="1.3" fill="#fff" stroke="#222" stroke-width="0.6"/>
<circle cx="492.3" cy="28.7" r="1.3" fill="#fff" stroke="#222" stroke-width="0.6"/>
<circle cx="486.2" cy="30.8" r="1.3" fill="#fff" stroke="#222" stroke-width="0.6"/>
<circle cx="490.5" cy="30.8" r="1.3" fill="#fff" stroke="#222" stroke-width="0.6"/>
<circle cx="488.4" cy="48.2" r="1.3" fill="#fff" stroke="#222" stroke-width="0.6"/>
<circle cx="484.5" cy="85.5" r="1.3" fill="#fff" stroke="#222" stroke-width="0.6"/>
<circle cx="485.8" cy="85.5" r="1.3" fill="#fff" stroke="#222" stroke-width="0.6"/>
<circle cx="487.1" cy="85.5" r="1.3" fill="#fff" stroke="#222" stroke-width="0.6"/>
<circle cx="488.4" cy="85.5" r="1.3" fill="#fff" stroke="#222" stroke-width="0.6"/>
<circle cx="489.7" cy="85.5" r="1.3" fill="#fff" stroke="#222" stroke-width="0.6"/>
<circle cx="491.0" cy="85.5" r="1.3" fill="#fff" stroke="#222" stroke-width="0.6"/>
<circle cx="492.3" cy="85.5" r="1.3" fill="#fff" stroke="#222" stroke-width="0.6"/>
<line x1="47.70" y1="121.50" x2="47.70" y2="202.30" stroke="#000" stroke-width="0.9" />
<line x1="47.70" y1="201.90" x2="137.20" y2="201.90" stroke="#000" stroke-width="0.9" />
<line x1="45.40" y1="201.90" x2="47.70" y2="201.90" stroke="#000" stroke-width="0.8" />
<text x="44.5" y="204.0" font-size="6.0" font-weight="bold" stroke="#000" stroke-width="0.12" text-anchor="end" fill="#000">0</text>
<line x1="45.40" y1="175.23" x2="47.70" y2="175.23" stroke="#000" stroke-width="0.8" />
<text x="44.5" y="177.33333333333334" font-size="6.0" font-weight="bold" stroke="#000" stroke-width="0.12" text-anchor="end" fill="#000">5</text>
<line x1="45.40" y1="148.57" x2="47.70" y2="148.57" stroke="#000" stroke-width="0.8" />
<text x="44.5" y="150.66666666666666" font-size="6.0" font-weight="bold" stroke="#000" stroke-width="0.12" text-anchor="end" fill="#000">10</text>
<line x1="45.40" y1="121.90" x2="47.70" y2="121.90" stroke="#000" stroke-width="0.8" />
<text x="44.5" y="124.0" font-size="6.0" font-weight="bold" stroke="#000" stroke-width="0.12" text-anchor="end" fill="#000">15</text>
<text x="0.8" y="121.3" font-size="10.8" font-weight="bold" stroke="#000" stroke-width="0.12" text-anchor="start" fill="#000">D</text>
<rect x="51.60" y="144.30" width="15.10" height="57.60" fill="#000"/>
<text x="59.15" y="141.70000000000002" font-size="6.8" font-weight="bold" stroke="#000" stroke-width="0.12" text-anchor="middle" fill="#000">10.8</text>
<line x1="59.15" y1="201.90" x2="59.15" y2="204.10" stroke="#000" stroke-width="0.8" />
<text x="59.15" y="210.20000000000002" font-size="5.9" font-weight="bold" stroke="#000" stroke-width="0.12" text-anchor="middle" fill="#000">10</text>
<rect x="73.90" y="188.57" width="15.10" height="13.33" fill="#000"/>
<text x="81.45" y="185.96666666666667" font-size="6.8" font-weight="bold" stroke="#000" stroke-width="0.12" text-anchor="middle" fill="#000">2.5</text>
<line x1="81.45" y1="201.90" x2="81.45" y2="204.10" stroke="#000" stroke-width="0.8" />
<text x="81.45" y="210.20000000000002" font-size="5.9" font-weight="bold" stroke="#000" stroke-width="0.12" text-anchor="middle" fill="#000">20</text>
<rect x="96.20" y="194.43" width="15.10" height="7.47" fill="#000"/>
<text x="103.75" y="191.83333333333334" font-size="6.8" font-weight="bold" stroke="#000" stroke-width="0.12" text-anchor="middle" fill="#000">1.4</text>
<line x1="103.75" y1="201.90" x2="103.75" y2="204.10" stroke="#000" stroke-width="0.8" />
<text x="103.75" y="210.20000000000002" font-size="5.9" font-weight="bold" stroke="#000" stroke-width="0.12" text-anchor="middle" fill="#000">50</text>
<rect x="118.50" y="195.50" width="15.10" height="6.40" fill="#000"/>
<text x="126.05" y="192.9" font-size="6.8" font-weight="bold" stroke="#000" stroke-width="0.12" text-anchor="middle" fill="#000">1.2</text>
<line x1="126.05" y1="201.90" x2="126.05" y2="204.10" stroke="#000" stroke-width="0.8" />
<text x="126.05" y="210.20000000000002" font-size="5.9" font-weight="bold" stroke="#000" stroke-width="0.12" text-anchor="middle" fill="#000">100</text>
<text x="28.3" y="163" font-size="6.2" stroke="#000" stroke-width="0.1" text-anchor="middle" fill="#000" transform="rotate(-90 28.3 163)">Fold difference engraftment</text>
<text x="35.25" y="163" font-size="6.2" stroke="#000" stroke-width="0.1" text-anchor="middle" fill="#000" transform="rotate(-90 35.25 163)">(NAC/control)</text>
<line x1="219.60" y1="121.50" x2="219.60" y2="202.30" stroke="#000" stroke-width="0.9" />
<line x1="219.60" y1="201.90" x2="309.10" y2="201.90" stroke="#000" stroke-width="0.9" />
<line x1="217.30" y1="201.90" x2="219.60" y2="201.90" stroke="#000" stroke-width="0.8" />
<text x="216.4" y="204.0" font-size="6.0" font-weight="bold" stroke="#000" stroke-width="0.12" text-anchor="end" fill="#000">0</text>
<line x1="217.30" y1="181.90" x2="219.60" y2="181.90" stroke="#000" stroke-width="0.8" />
<text x="216.4" y="184.0" font-size="6.0" font-weight="bold" stroke="#000" stroke-width="0.12" text-anchor="end" fill="#000">10</text>
<line x1="217.30" y1="161.90" x2="219.60" y2="161.90" stroke="#000" stroke-width="0.8" />
<text x="216.4" y="164.0" font-size="6.0" font-weight="bold" stroke="#000" stroke-width="0.12" text-anchor="end" fill="#000">20</text>
<line x1="217.30" y1="141.90" x2="219.60" y2="141.90" stroke="#000" stroke-width="0.8" />
<text x="216.4" y="144.0" font-size="6.0" font-weight="bold" stroke="#000" stroke-width="0.12" text-anchor="end" fill="#000">30</text>
<line x1="217.30" y1="121.90" x2="219.60" y2="121.90" stroke="#000" stroke-width="0.8" />
<text x="216.4" y="124.0" font-size="6.0" font-weight="bold" stroke="#000" stroke-width="0.12" text-anchor="end" fill="#000">40</text>
<text x="169.0" y="121.3" font-size="10.8" font-weight="bold" stroke="#000" stroke-width="0.12" text-anchor="start" fill="#000">E</text>
<rect x="223.50" y="133.90" width="15.10" height="68.00" fill="#000"/>
<text x="231.05" y="131.3" font-size="6.8" font-weight="bold" stroke="#000" stroke-width="0.12" text-anchor="middle" fill="#000">34</text>
<line x1="231.05" y1="201.90" x2="231.05" y2="204.10" stroke="#000" stroke-width="0.8" />
<text x="231.05" y="210.20000000000002" font-size="5.9" font-weight="bold" stroke="#000" stroke-width="0.12" text-anchor="middle" fill="#000">10</text>
<rect x="245.80" y="192.90" width="15.10" height="9.00" fill="#000"/>
<text x="253.35000000000002" y="190.3" font-size="6.8" font-weight="bold" stroke="#000" stroke-width="0.12" text-anchor="middle" fill="#000">4.5</text>
<line x1="253.35" y1="201.90" x2="253.35" y2="204.10" stroke="#000" stroke-width="0.8" />
<text x="253.35000000000002" y="210.20000000000002" font-size="5.9" font-weight="bold" stroke="#000" stroke-width="0.12" text-anchor="middle" fill="#000">20</text>
<rect x="268.10" y="198.70" width="15.10" height="3.20" fill="#000"/>
<text x="275.65000000000003" y="196.10000000000002" font-size="6.8" font-weight="bold" stroke="#000" stroke-width="0.12" text-anchor="middle" fill="#000">1.6</text>
<line x1="275.65" y1="201.90" x2="275.65" y2="204.10" stroke="#000" stroke-width="0.8" />
<text x="275.65000000000003" y="210.20000000000002" font-size="5.9" font-weight="bold" stroke="#000" stroke-width="0.12" text-anchor="middle" fill="#000">50</text>
<rect x="290.40" y="199.10" width="15.10" height="2.80" fill="#000"/>
<text x="297.95" y="196.5" font-size="6.8" font-weight="bold" stroke="#000" stroke-width="0.12" text-anchor="middle" fill="#000">1.4</text>
<line x1="297.95" y1="201.90" x2="297.95" y2="204.10" stroke="#000" stroke-width="0.8" />
<text x="297.95" y="210.20000000000002" font-size="5.9" font-weight="bold" stroke="#000" stroke-width="0.12" text-anchor="middle" fill="#000">100</text>
<text x="200.9" y="163" font-size="6.2" stroke="#000" stroke-width="0.1" text-anchor="middle" fill="#000" transform="rotate(-90 200.9 163)">Fold difference engraftment</text>
<text x="207.85" y="163" font-size="6.2" stroke="#000" stroke-width="0.1" text-anchor="middle" fill="#000" transform="rotate(-90 207.85 163)">(NAC/control)</text>
<line x1="400.10" y1="121.50" x2="400.10" y2="202.30" stroke="#000" stroke-width="0.9" />
<line x1="400.10" y1="201.90" x2="489.60" y2="201.90" stroke="#000" stroke-width="0.9" />
<line x1="397.80" y1="201.90" x2="400.10" y2="201.90" stroke="#000" stroke-width="0.8" />
<text x="396.90000000000003" y="204.0" font-size="6.0" font-weight="bold" stroke="#000" stroke-width="0.12" text-anchor="end" fill="#000">0</text>
<line x1="397.80" y1="185.90" x2="400.10" y2="185.90" stroke="#000" stroke-width="0.8" />
<text x="396.90000000000003" y="188.0" font-size="6.0" font-weight="bold" stroke="#000" stroke-width="0.12" text-anchor="end" fill="#000">5</text>
<line x1="397.80" y1="169.90" x2="400.10" y2="169.90" stroke="#000" stroke-width="0.8" />
<text x="396.90000000000003" y="172.0" font-size="6.0" font-weight="bold" stroke="#000" stroke-width="0.12" text-anchor="end" fill="#000">10</text>
<line x1="397.80" y1="153.90" x2="400.10" y2="153.90" stroke="#000" stroke-width="0.8" />
<text x="396.90000000000003" y="156.0" font-size="6.0" font-weight="bold" stroke="#000" stroke-width="0.12" text-anchor="end" fill="#000">15</text>
<line x1="397.80" y1="137.90" x2="400.10" y2="137.90" stroke="#000" stroke-width="0.8" />
<text x="396.90000000000003" y="140.0" font-size="6.0" font-weight="bold" stroke="#000" stroke-width="0.12" text-anchor="end" fill="#000">20</text>
<line x1="397.80" y1="121.90" x2="400.10" y2="121.90" stroke="#000" stroke-width="0.8" />
<text x="396.90000000000003" y="124.0" font-size="6.0" font-weight="bold" stroke="#000" stroke-width="0.12" text-anchor="end" fill="#000">25</text>
<text x="359.0" y="121.3" font-size="10.8" font-weight="bold" stroke="#000" stroke-width="0.12" text-anchor="start" fill="#000">F</text>
<rect x="404.00" y="131.50" width="15.10" height="70.40" fill="#000"/>
<text x="411.55" y="128.9" font-size="6.8" font-weight="bold" stroke="#000" stroke-width="0.12" text-anchor="middle" fill="#000">22</text>
<line x1="411.55" y1="201.90" x2="411.55" y2="204.10" stroke="#000" stroke-width="0.8" />
<text x="411.55" y="210.20000000000002" font-size="5.9" font-weight="bold" stroke="#000" stroke-width="0.12" text-anchor="middle" fill="#000">10</text>
<rect x="426.30" y="176.30" width="15.10" height="25.60" fill="#000"/>
<text x="433.85" y="173.70000000000002" font-size="6.8" font-weight="bold" stroke="#000" stroke-width="0.12" text-anchor="middle" fill="#000">8.0</text>
<line x1="433.85" y1="201.90" x2="433.85" y2="204.10" stroke="#000" stroke-width="0.8" />
<text x="433.85" y="210.20000000000002" font-size="5.9" font-weight="bold" stroke="#000" stroke-width="0.12" text-anchor="middle" fill="#000">20</text>
<rect x="448.60" y="196.78" width="15.10" height="5.12" fill="#000"/>
<text x="456.15000000000003" y="194.18" font-size="6.8" font-weight="bold" stroke="#000" stroke-width="0.12" text-anchor="middle" fill="#000">1.6</text>
<line x1="456.15" y1="201.90" x2="456.15" y2="204.10" stroke="#000" stroke-width="0.8" />
<text x="456.15000000000003" y="210.20000000000002" font-size="5.9" font-weight="bold" stroke="#000" stroke-width="0.12" text-anchor="middle" fill="#000">50</text>
<rect x="470.90" y="197.74" width="15.10" height="4.16" fill="#000"/>
<text x="478.45" y="195.14000000000001" font-size="6.8" font-weight="bold" stroke="#000" stroke-width="0.12" text-anchor="middle" fill="#000">1.3</text>
<line x1="478.45" y1="201.90" x2="478.45" y2="204.10" stroke="#000" stroke-width="0.8" />
<text x="478.45" y="210.20000000000002" font-size="5.9" font-weight="bold" stroke="#000" stroke-width="0.12" text-anchor="middle" fill="#000">100</text>
<text x="380.4" y="163" font-size="6.2" stroke="#000" stroke-width="0.1" text-anchor="middle" fill="#000" transform="rotate(-90 380.4 163)">Fold difference engraftment</text>
<text x="387.34999999999997" y="163" font-size="6.2" stroke="#000" stroke-width="0.1" text-anchor="middle" fill="#000" transform="rotate(-90 387.34999999999997 163)">(NAC/control)</text>
<text x="0.8" y="227.0" font-size="10.8" font-weight="bold" stroke="#000" stroke-width="0.12" text-anchor="start" fill="#000">G</text>
<line x1="47.50" y1="245.96" x2="125.50" y2="245.96" stroke="#13222c" stroke-width="1.2" stroke-dasharray="2.6 1.5"/>
<line x1="47.50" y1="228.60" x2="87.67" y2="309.00" stroke="#f2b48a" stroke-width="0.8" />
<line x1="47.50" y1="228.60" x2="125.50" y2="264.90" stroke="#e88aa8" stroke-width="0.9" />
<line x1="47.50" y1="228.60" x2="125.50" y2="248.60" stroke="#1f1f7a" stroke-width="1.2" />
<line x1="47.50" y1="228.60" x2="97.26" y2="309.00" stroke="#d8203a" stroke-width="1.0" />
<line x1="47.50" y1="228.60" x2="123.16" y2="309.00" stroke="#1fa9d6" stroke-width="1.0" />
<line x1="47.50" y1="228.60" x2="77.14" y2="309.00" stroke="#0f9d6b" stroke-width="1.1" />
<line x1="47.50" y1="228.20" x2="47.50" y2="309.40" stroke="#000" stroke-width="0.9" />
<line x1="47.50" y1="309.00" x2="126.00" y2="309.00" stroke="#000" stroke-width="0.9" />
<line x1="45.20" y1="228.60" x2="47.50" y2="228.60" stroke="#000" stroke-width="0.8" />
<text x="44.3" y="230.5" font-size="5.4" font-weight="bold" stroke="#000" stroke-width="0.12" text-anchor="end" fill="#000">1</text>
<line x1="45.20" y1="245.96" x2="47.50" y2="245.96" stroke="#000" stroke-width="0.8" />
<text x="44.3" y="247.8582906925068" font-size="5.4" font-weight="bold" stroke="#000" stroke-width="0.12" text-anchor="end" fill="#000">0.37</text>
<line x1="45.20" y1="268.80" x2="47.50" y2="268.80" stroke="#000" stroke-width="0.8" />
<text x="44.3" y="270.7" font-size="5.4" font-weight="bold" stroke="#000" stroke-width="0.12" text-anchor="end" fill="#000">0.1</text>
<line x1="45.20" y1="309.00" x2="47.50" y2="309.00" stroke="#000" stroke-width="0.8" />
<text x="44.3" y="310.9" font-size="5.4" font-weight="bold" stroke="#000" stroke-width="0.12" text-anchor="end" fill="#000">0.01</text>
<line x1="46.30" y1="256.70" x2="47.50" y2="256.70" stroke="#333" stroke-width="0.4" />
<line x1="46.30" y1="249.62" x2="47.50" y2="249.62" stroke="#333" stroke-width="0.4" />
<line x1="46.30" y1="244.60" x2="47.50" y2="244.60" stroke="#333" stroke-width="0.4" />
<line x1="46.30" y1="240.70" x2="47.50" y2="240.70" stroke="#333" stroke-width="0.4" />
<line x1="46.30" y1="237.52" x2="47.50" y2="237.52" stroke="#333" stroke-width="0.4" />
<line x1="46.30" y1="234.83" x2="47.50" y2="234.83" stroke="#333" stroke-width="0.4" />
<line x1="46.30" y1="232.50" x2="47.50" y2="232.50" stroke="#333" stroke-width="0.4" />
<line x1="46.30" y1="230.44" x2="47.50" y2="230.44" stroke="#333" stroke-width="0.4" />
<line x1="46.30" y1="296.90" x2="47.50" y2="296.90" stroke="#333" stroke-width="0.4" />
<line x1="46.30" y1="289.82" x2="47.50" y2="289.82" stroke="#333" stroke-width="0.4" />
<line x1="46.30" y1="284.80" x2="47.50" y2="284.80" stroke="#333" stroke-width="0.4" />
<line x1="46.30" y1="280.90" x2="47.50" y2="280.90" stroke="#333" stroke-width="0.4" />
<line x1="46.30" y1="277.72" x2="47.50" y2="277.72" stroke="#333" stroke-width="0.4" />
<line x1="46.30" y1="275.03" x2="47.50" y2="275.03" stroke="#333" stroke-width="0.4" />
<line x1="46.30" y1="272.70" x2="47.50" y2="272.70" stroke="#333" stroke-width="0.4" />
<line x1="46.30" y1="270.64" x2="47.50" y2="270.64" stroke="#333" stroke-width="0.4" />
<line x1="47.50" y1="309.00" x2="47.50" y2="311.20" stroke="#000" stroke-width="0.8" />
<text x="47.5" y="317.6" font-size="5.4" font-weight="bold" stroke="#000" stroke-width="0.12" text-anchor="middle" fill="#000">0</text>
<line x1="67.00" y1="309.00" x2="67.00" y2="311.20" stroke="#000" stroke-width="0.8" />
<text x="67.0" y="317.6" font-size="5.4" font-weight="bold" stroke="#000" stroke-width="0.12" text-anchor="middle" fill="#000">25</text>
<line x1="86.50" y1="309.00" x2="86.50" y2="311.20" stroke="#000" stroke-width="0.8" />
<text x="86.5" y="317.6" font-size="5.4" font-weight="bold" stroke="#000" stroke-width="0.12" text-anchor="middle" fill="#000">50</text>
<line x1="106.00" y1="309.00" x2="106.00" y2="311.20" stroke="#000" stroke-width="0.8" />
<text x="106.0" y="317.6" font-size="5.4" font-weight="bold" stroke="#000" stroke-width="0.12" text-anchor="middle" fill="#000">75</text>
<line x1="125.50" y1="309.00" x2="125.50" y2="311.20" stroke="#000" stroke-width="0.8" />
<text x="125.5" y="317.6" font-size="5.4" font-weight="bold" stroke="#000" stroke-width="0.12" text-anchor="middle" fill="#000">100</text>
<line x1="57.25" y1="309.00" x2="57.25" y2="310.30" stroke="#000" stroke-width="0.5" />
<line x1="76.75" y1="309.00" x2="76.75" y2="310.30" stroke="#000" stroke-width="0.5" />
<line x1="96.25" y1="309.00" x2="96.25" y2="310.30" stroke="#000" stroke-width="0.5" />
<line x1="115.75" y1="309.00" x2="115.75" y2="310.30" stroke="#000" stroke-width="0.5" />
<text x="86.5" y="326.6" font-size="6.6" font-weight="bold" stroke="#000" stroke-width="0.12" text-anchor="middle" fill="#000">Cell Dose</text>
<text x="28.3" y="268.5" font-size="6.6" font-weight="bold" stroke="#000" stroke-width="0.12" text-anchor="middle" fill="#000" transform="rotate(-90 28.3 268.5)">%Negative</text>
<polygon points="124.1,258.1 126.9,258.1 125.5,255.6" fill="#f2b48a"/>
<polygon points="54.0,239.5 56.6,239.5 55.3,237.2" fill="#f2b48a"/>
<polygon points="61.6,241.8 64.6,241.8 63.1,239.1" fill="#e88aa8"/>
<polygon points="85.1,246.7 87.9,246.7 86.5,244.2" fill="#e88aa8"/>
<polygon points="54.0,235.0 56.6,235.0 55.3,232.7" fill="#e88aa8"/>
<polygon points="53.8,240.6 56.8,240.6 55.3,243.3" fill="#d8203a"/>
<polygon points="61.6,247.6 64.6,247.6 63.1,250.3" fill="#d8203a"/>
<rect x="53.60" y="247.60" width="3.40" height="3.40" fill="#0f9d6b"/>
<rect x="61.40" y="267.30" width="3.40" height="3.40" fill="#0f9d6b"/>
<line x1="86.50" y1="238.50" x2="86.50" y2="241.70" stroke="#1f1f7a" stroke-width="0.7" />
<line x1="85.30" y1="238.50" x2="87.70" y2="238.50" stroke="#1f1f7a" stroke-width="0.7" />
<line x1="125.50" y1="245.00" x2="125.50" y2="250.50" stroke="#1f1f7a" stroke-width="0.7" />
<polygon points="53.3,230.5 55.3,228.5 57.3,230.5 55.3,232.5" fill="#1f1f7a"/>
<polygon points="61.1,231.1 63.1,229.1 65.1,231.1 63.1,233.1" fill="#1f1f7a"/>
<polygon points="84.5,241.7 86.5,239.7 88.5,241.7 86.5,243.7" fill="#1f1f7a"/>
<polygon points="123.5,247.8 125.5,245.8 127.5,247.8 125.5,249.8" fill="#1f1f7a"/>
<circle cx="47.5" cy="228.6" r="2.3" fill="#1fa9d6"/>
<circle cx="55.3" cy="237.2" r="1.9" fill="#1fa9d6"/>
<circle cx="63.1" cy="244.0" r="1.9" fill="#1fa9d6"/>
<circle cx="86.5" cy="269.0" r="1.9" fill="#1fa9d6"/>
<line x1="134.00" y1="254.90" x2="142.00" y2="254.90" stroke="#f2b48a" stroke-width="0.8" />
<polygon points="136.4,256.2 139.6,256.2 138.0,253.3" fill="#f2b48a"/>
<text x="147.7" y="257.1" font-size="6.3" stroke="#000" stroke-width="0.06" text-anchor="start" fill="#000">IT NAC-</text>
<line x1="134.00" y1="264.17" x2="142.00" y2="264.17" stroke="#0f9d6b" stroke-width="0.8" />
<rect x="136.40" y="262.57" width="3.20" height="3.20" fill="#0f9d6b"/>
<text x="147.7" y="266.37" font-size="6.3" stroke="#000" stroke-width="0.06" text-anchor="start" fill="#000">IT NAC+</text>
<line x1="134.00" y1="273.44" x2="142.00" y2="273.44" stroke="#e88aa8" stroke-width="0.8" />
<polygon points="136.4,274.7 139.6,274.7 138.0,271.8" fill="#e88aa8"/>
<text x="147.7" y="275.64" font-size="6.3" stroke="#000" stroke-width="0.06" text-anchor="start" fill="#000">BM NAC-</text>
<line x1="134.00" y1="282.71" x2="142.00" y2="282.71" stroke="#d8203a" stroke-width="0.8" />
<polygon points="136.4,281.4 139.6,281.4 138.0,284.3" fill="#d8203a"/>
<text x="147.7" y="284.90999999999997" font-size="6.3" stroke="#000" stroke-width="0.06" text-anchor="start" fill="#000">BM NAC+</text>
<line x1="134.00" y1="291.98" x2="142.00" y2="291.98" stroke="#1f1f7a" stroke-width="0.8" />
<polygon points="136.1,292.0 138.0,290.1 139.9,292.0 138.0,293.9" fill="#1f1f7a"/>
<text x="147.7" y="294.18" font-size="6.3" stroke="#000" stroke-width="0.06" text-anchor="start" fill="#000">SP NAC-</text>
<line x1="134.00" y1="301.25" x2="142.00" y2="301.25" stroke="#1fa9d6" stroke-width="0.8" />
<circle cx="138.0" cy="301.2" r="1.6" fill="#1fa9d6"/>
<text x="147.7" y="303.45" font-size="6.3" stroke="#000" stroke-width="0.06" text-anchor="start" fill="#000">SP NAC+</text>
<text x="185.0" y="226.7" font-size="10.8" font-weight="bold" stroke="#000" stroke-width="0.12" text-anchor="start" fill="#000">H</text>
<line x1="232.10" y1="228.20" x2="232.10" y2="309.10" stroke="#000" stroke-width="0.9" />
<line x1="232.10" y1="308.70" x2="283.30" y2="308.70" stroke="#000" stroke-width="0.9" />
<line x1="229.80" y1="308.70" x2="232.10" y2="308.70" stroke="#000" stroke-width="0.8" />
<text x="229.5" y="310.7" font-size="5.8" font-weight="bold" stroke="#000" stroke-width="0.12" text-anchor="end" fill="#000">0</text>
<line x1="229.80" y1="292.68" x2="232.10" y2="292.68" stroke="#000" stroke-width="0.8" />
<text x="229.5" y="294.68" font-size="5.8" font-weight="bold" stroke="#000" stroke-width="0.12" text-anchor="end" fill="#000">1</text>
<line x1="229.80" y1="276.66" x2="232.10" y2="276.66" stroke="#000" stroke-width="0.8" />
<text x="229.5" y="278.65999999999997" font-size="5.8" font-weight="bold" stroke="#000" stroke-width="0.12" text-anchor="end" fill="#000">2</text>
<line x1="229.80" y1="260.64" x2="232.10" y2="260.64" stroke="#000" stroke-width="0.8" />
<text x="229.5" y="262.64" font-size="5.8" font-weight="bold" stroke="#000" stroke-width="0.12" text-anchor="end" fill="#000">3</text>
<line x1="229.80" y1="244.62" x2="232.10" y2="244.62" stroke="#000" stroke-width="0.8" />
<text x="229.5" y="246.62" font-size="5.8" font-weight="bold" stroke="#000" stroke-width="0.12" text-anchor="end" fill="#000">4</text>
<line x1="229.80" y1="228.60" x2="232.10" y2="228.60" stroke="#000" stroke-width="0.8" />
<text x="229.5" y="230.6" font-size="5.8" font-weight="bold" stroke="#000" stroke-width="0.12" text-anchor="end" fill="#000">5</text>
<rect x="234.20" y="286.27" width="12.00" height="22.43" fill="#000"/>
<text x="240.2" y="283.772" font-size="6.4" font-weight="bold" stroke="#000" stroke-width="0.12" text-anchor="middle" fill="#000">1.4</text>
<line x1="240.20" y1="308.70" x2="240.20" y2="310.90" stroke="#000" stroke-width="0.8" />
<text x="240.39999999999998" y="316.7" font-size="5.6" font-weight="bold" stroke="#000" stroke-width="0.12" text-anchor="middle" fill="#000">IT</text>
<rect x="251.10" y="257.44" width="12.00" height="51.26" fill="#000"/>
<text x="257.1" y="254.93599999999998" font-size="6.4" font-weight="bold" stroke="#000" stroke-width="0.12" text-anchor="middle" fill="#000">3.2</text>
<line x1="257.10" y1="308.70" x2="257.10" y2="310.90" stroke="#000" stroke-width="0.8" />
<text x="257.3" y="316.7" font-size="5.6" font-weight="bold" stroke="#000" stroke-width="0.12" text-anchor="middle" fill="#000">BM</text>
<rect x="268.00" y="235.01" width="12.00" height="73.69" fill="#000"/>
<text x="274.0" y="232.50799999999998" font-size="6.4" font-weight="bold" stroke="#000" stroke-width="0.12" text-anchor="middle" fill="#000">4.6</text>
<line x1="274.00" y1="308.70" x2="274.00" y2="310.90" stroke="#000" stroke-width="0.8" />
<text x="274.2" y="316.7" font-size="5.6" font-weight="bold" stroke="#000" stroke-width="0.12" text-anchor="middle" fill="#000">SP</text>
<text x="214.0" y="268.8" font-size="6.3" stroke="#000" stroke-width="0.1" text-anchor="middle" fill="#000" transform="rotate(-90 214.0 268.8)">Fold difference of SRC</text>
<text x="221.7" y="268.0" font-size="6.4" stroke="#000" stroke-width="0.1" text-anchor="middle" fill="#000" transform="rotate(-90 221.7 268.0)">(NAC/control)</text>
<text x="316.3" y="225.9" font-size="10.8" font-weight="bold" stroke="#000" stroke-width="0.12" text-anchor="start" fill="#000">I</text>
<line x1="351.20" y1="227.00" x2="351.20" y2="309.00" stroke="#000" stroke-width="0.9" />
<line x1="351.20" y1="308.60" x2="469.60" y2="308.60" stroke="#000" stroke-width="0.9" />
<line x1="348.90" y1="308.60" x2="351.20" y2="308.60" stroke="#000" stroke-width="0.8" />
<text x="348.0" y="310.5" font-size="5.4" font-weight="bold" stroke="#000" stroke-width="0.12" text-anchor="end" fill="#000">0</text>
<line x1="348.90" y1="292.36" x2="351.20" y2="292.36" stroke="#000" stroke-width="0.8" />
<text x="348.0" y="294.26" font-size="5.4" font-weight="bold" stroke="#000" stroke-width="0.12" text-anchor="end" fill="#000">20</text>
<line x1="348.90" y1="276.12" x2="351.20" y2="276.12" stroke="#000" stroke-width="0.8" />
<text x="348.0" y="278.02" font-size="5.4" font-weight="bold" stroke="#000" stroke-width="0.12" text-anchor="end" fill="#000">40</text>
<line x1="348.90" y1="259.88" x2="351.20" y2="259.88" stroke="#000" stroke-width="0.8" />
<text x="348.0" y="261.78" font-size="5.4" font-weight="bold" stroke="#000" stroke-width="0.12" text-anchor="end" fill="#000">60</text>
<line x1="348.90" y1="243.64" x2="351.20" y2="243.64" stroke="#000" stroke-width="0.8" />
<text x="348.0" y="245.54000000000002" font-size="5.4" font-weight="bold" stroke="#000" stroke-width="0.12" text-anchor="end" fill="#000">80</text>
<line x1="348.90" y1="227.40" x2="351.20" y2="227.40" stroke="#000" stroke-width="0.8" />
<text x="348.0" y="229.30000000000004" font-size="5.4" font-weight="bold" stroke="#000" stroke-width="0.12" text-anchor="end" fill="#000">100</text>
<text x="335.0" y="266.5" font-size="7.2" stroke="#000" stroke-width="0.06" text-anchor="middle" fill="#000" transform="rotate(-90 335.0 266.5)">% of human CD45</text>
<line x1="361.20" y1="238.36" x2="361.20" y2="236.90" stroke="#000" stroke-width="0.6" />
<line x1="358.40" y1="236.90" x2="364.00" y2="236.90" stroke="#000" stroke-width="0.6" />
<rect x="354.20" y="244.13" width="14.00" height="64.47" fill="#000"/>
<rect x="354.65" y="238.81" width="13.10" height="5.32" fill="#fff" stroke="#000" stroke-width="0.9"/>
<line x1="361.20" y1="244.13" x2="361.20" y2="248.43" stroke="#fff" stroke-width="0.85" />
<line x1="358.40" y1="248.43" x2="364.00" y2="248.43" stroke="#fff" stroke-width="0.85" />
<line x1="361.20" y1="308.60" x2="361.20" y2="310.60" stroke="#000" stroke-width="0.8" />
<text x="361.2" y="315.8" font-size="5.6" stroke="#000" stroke-width="0.06" text-anchor="middle" fill="#000">-</text>
<line x1="380.82" y1="236.01" x2="380.82" y2="235.52" stroke="#000" stroke-width="0.6" />
<line x1="378.02" y1="235.52" x2="383.62" y2="235.52" stroke="#000" stroke-width="0.6" />
<rect x="373.82" y="243.15" width="14.00" height="65.45" fill="#000"/>
<rect x="374.27" y="236.46" width="13.10" height="6.70" fill="#fff" stroke="#000" stroke-width="0.9"/>
<line x1="380.82" y1="243.15" x2="380.82" y2="245.91" stroke="#fff" stroke-width="0.85" />
<line x1="378.02" y1="245.91" x2="383.62" y2="245.91" stroke="#fff" stroke-width="0.85" />
<line x1="380.82" y1="308.60" x2="380.82" y2="310.60" stroke="#000" stroke-width="0.8" />
<text x="380.82" y="315.8" font-size="5.6" stroke="#000" stroke-width="0.06" text-anchor="middle" fill="#000">+</text>
<line x1="400.44" y1="241.20" x2="400.44" y2="239.58" stroke="#000" stroke-width="0.6" />
<line x1="397.64" y1="239.58" x2="403.24" y2="239.58" stroke="#000" stroke-width="0.6" />
<rect x="393.44" y="245.75" width="14.00" height="62.85" fill="#000"/>
<rect x="393.89" y="241.65" width="13.10" height="4.10" fill="#fff" stroke="#000" stroke-width="0.9"/>
<line x1="400.44" y1="245.75" x2="400.44" y2="249.00" stroke="#fff" stroke-width="0.85" />
<line x1="397.64" y1="249.00" x2="403.24" y2="249.00" stroke="#fff" stroke-width="0.85" />
<line x1="400.44" y1="308.60" x2="400.44" y2="310.60" stroke="#000" stroke-width="0.8" />
<text x="400.44" y="315.8" font-size="5.6" stroke="#000" stroke-width="0.06" text-anchor="middle" fill="#000">-</text>
<line x1="420.06" y1="236.82" x2="420.06" y2="236.33" stroke="#000" stroke-width="0.6" />
<line x1="417.26" y1="236.33" x2="422.86" y2="236.33" stroke="#000" stroke-width="0.6" />
<rect x="413.06" y="243.15" width="14.00" height="65.45" fill="#000"/>
<rect x="413.51" y="237.27" width="13.10" height="5.88" fill="#fff" stroke="#000" stroke-width="0.9"/>
<line x1="420.06" y1="243.15" x2="420.06" y2="245.75" stroke="#fff" stroke-width="0.85" />
<line x1="417.26" y1="245.75" x2="422.86" y2="245.75" stroke="#fff" stroke-width="0.85" />
<line x1="420.06" y1="308.60" x2="420.06" y2="310.60" stroke="#000" stroke-width="0.8" />
<text x="420.06" y="315.8" font-size="5.6" stroke="#000" stroke-width="0.06" text-anchor="middle" fill="#000">+</text>
<rect x="432.68" y="239.34" width="14.00" height="69.26" fill="#000"/>
<line x1="439.68" y1="239.34" x2="439.68" y2="243.07" stroke="#fff" stroke-width="0.85" />
<line x1="436.88" y1="243.07" x2="442.48" y2="243.07" stroke="#fff" stroke-width="0.85" />
<line x1="439.68" y1="308.60" x2="439.68" y2="310.60" stroke="#000" stroke-width="0.8" />
<text x="439.68" y="315.8" font-size="5.6" stroke="#000" stroke-width="0.06" text-anchor="middle" fill="#000">-</text>
<line x1="459.30" y1="234.38" x2="459.30" y2="233.98" stroke="#000" stroke-width="0.6" />
<line x1="456.50" y1="233.98" x2="462.10" y2="233.98" stroke="#000" stroke-width="0.6" />
<rect x="452.30" y="234.38" width="14.00" height="74.22" fill="#000"/>
<line x1="459.30" y1="234.38" x2="459.30" y2="235.68" stroke="#fff" stroke-width="0.85" />
<line x1="456.50" y1="235.68" x2="462.10" y2="235.68" stroke="#fff" stroke-width="0.85" />
<line x1="459.30" y1="308.60" x2="459.30" y2="310.60" stroke="#000" stroke-width="0.8" />
<text x="459.3" y="315.8" font-size="5.6" stroke="#000" stroke-width="0.06" text-anchor="middle" fill="#000">+</text>
<line x1="356.30" y1="317.90" x2="387.20" y2="317.90" stroke="#000" stroke-width="0.8" />
<text x="371.15" y="325.8" font-size="5.6" stroke="#000" stroke-width="0.06" text-anchor="middle" fill="#000">IT</text>
<line x1="395.40" y1="317.90" x2="426.30" y2="317.90" stroke="#000" stroke-width="0.8" />
<text x="410.25" y="325.8" font-size="5.6" stroke="#000" stroke-width="0.06" text-anchor="middle" fill="#000">BM</text>
<line x1="434.50" y1="317.90" x2="465.40" y2="317.90" stroke="#000" stroke-width="0.8" />
<text x="449.34999999999997" y="325.8" font-size="5.6" stroke="#000" stroke-width="0.06" text-anchor="middle" fill="#000">SP</text>
<text x="475.8" y="316.6" font-size="5.7" stroke="#000" stroke-width="0.06" text-anchor="start" fill="#000">NAC</text>
<rect x="470.60" y="262.70" width="9.50" height="4.80" fill="#000"/>
<text x="484.4" y="267.4" font-size="6.7" stroke="#000" stroke-width="0.06" text-anchor="start" fill="#000">CD19+(B)</text>
<rect x="471.10" y="273.20" width="8.50" height="3.70" fill="#fff" stroke="#000" stroke-width="1.0"/>
<text x="484.4" y="277.4" font-size="6.7" stroke="#000" stroke-width="0.06" text-anchor="start" fill="#000">CD33+(M)</text>
</g>
</svg>
</body></html>
